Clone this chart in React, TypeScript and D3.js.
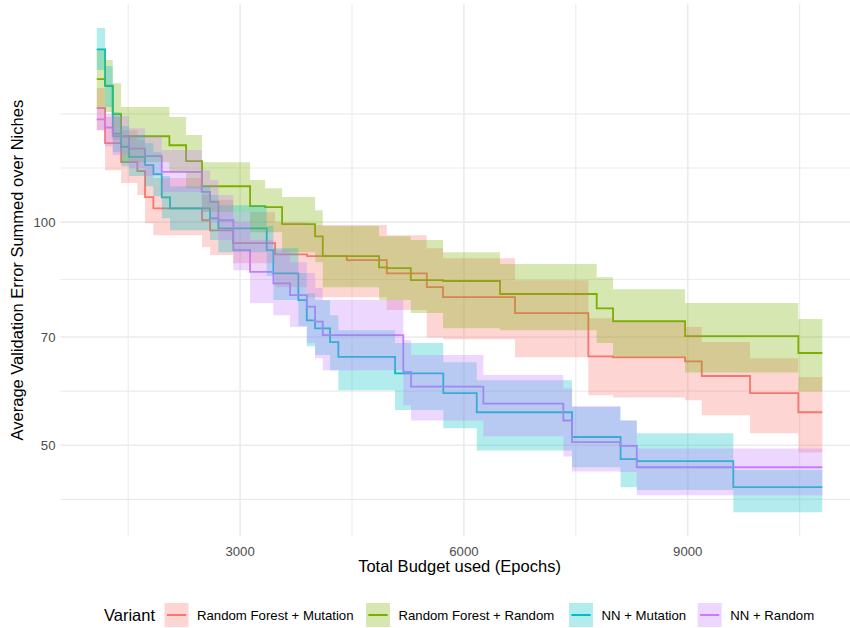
import React from "react";
import * as d3 from "d3";

// ---------- data ----------
const variants = [
  "Random Forest + Mutation",
  "Random Forest + Random",
  "NN + Mutation",
  "NN + Random",
];
const colors = ["#F8766D", "#7CAE00", "#00BFC4", "#C77CFF"];
const budgetEnd = 10804;

const rfMutBudget = [1079, 1190, 1405, 1623, 1726, 1838, 2490, 2598, 2906, 3469, 3898, 4430, 4966, 5502, 5720, 6685, 7668, 7999, 8964, 9188, 9835, 10483];
const rfMutMean = [142.5, 127.8, 120.5, 117.2, 108.1, 104.4, 100.6, 97.5, 93.7, 90.5, 90.0, 88.9, 85.3, 81.7, 79.2, 75.4, 65.9, 65.7, 64.9, 62.0, 58.8, 55.4];
const rfMutLo = [133.1, 117.5, 112.9, 108.8, 99.7, 96.0, 92.5, 90.3, 88.0, 81.7, 79.2, 79.2, 76.1, 69.9, 69.5, 65.7, 58.4, 58.0, 57.5, 54.9, 51.9, 48.9];
const rfMutHi = [151.7, 138.6, 133.1, 129.0, 119.4, 114.7, 108.8, 107.1, 103.2, 100.0, 99.1, 99.1, 96.0, 92.2, 89.4, 83.5, 74.2, 73.3, 72.2, 68.9, 65.5, 61.8];

const rfRndBudget = [1079, 1190, 1293, 1405, 2052, 2276, 2490, 3134, 3335, 3563, 4005, 4108, 4863, 4966, 5288, 5720, 6484, 7780, 7999, 8964, 10483];
const rfRndMean = [156.0, 152.6, 139.9, 130.6, 127.0, 120.9, 111.8, 105.1, 104.8, 99.4, 95.7, 90.0, 86.9, 86.7, 83.5, 83.3, 80.0, 76.5, 73.5, 70.2, 66.6];
const rfRndLo = [142.5, 140.8, 129.0, 120.5, 116.8, 111.1, 103.2, 96.9, 96.9, 91.1, 88.3, 81.7, 78.5, 78.5, 75.4, 71.9, 71.5, 68.7, 65.7, 62.7, 59.1];
const rfRndHi = [170.7, 165.5, 154.0, 143.0, 138.6, 131.1, 120.5, 114.0, 111.1, 108.1, 103.8, 98.8, 95.7, 95.7, 94.6, 91.1, 87.8, 84.3, 81.2, 77.8, 74.0];

const nnMutBudget = [1079, 1190, 1293, 1405, 1512, 1726, 1838, 1950, 2061, 2598, 2709, 3357, 3446, 3781, 3894, 4005, 4206, 4317, 5077, 5724, 6172, 7449, 8100, 8317, 9611];
const nnMutMean = [171.1, 152.8, 131.7, 126.4, 122.5, 119.4, 116.1, 108.0, 104.4, 101.2, 98.1, 91.7, 85.3, 78.5, 73.7, 71.9, 68.9, 65.8, 62.5, 58.8, 55.4, 51.3, 47.9, 47.6, 43.9];
const nnMutLo = [160.4, 143.0, 124.3, 119.0, 115.4, 111.8, 108.4, 101.2, 97.5, 94.6, 91.1, 84.6, 78.5, 72.4, 68.0, 66.2, 63.1, 59.3, 55.8, 52.7, 49.2, 46.7, 43.9, 43.5, 40.6];
const nnMutHi = [182.8, 162.4, 140.8, 134.8, 131.1, 127.8, 124.3, 115.4, 111.8, 108.8, 105.4, 98.8, 92.2, 85.4, 80.2, 78.5, 74.9, 71.5, 68.7, 64.7, 61.2, 56.3, 54.0, 51.9, 46.3];

const nnRndBudget = [1079, 1190, 1293, 1512, 1726, 1950, 2486, 2598, 2709, 2910, 3134, 3446, 3670, 3894, 4005, 4108, 5188, 5291, 6261, 7333, 7449, 8093, 8317];
const nnRndMean = [137.6, 134.2, 130.6, 125.7, 122.8, 116.9, 109.9, 106.5, 100.6, 91.7, 85.7, 82.7, 79.7, 76.9, 73.4, 70.4, 62.8, 60.0, 56.9, 54.0, 50.5, 49.9, 46.7];
const nnRndLo = [133.1, 126.6, 123.2, 118.3, 115.4, 109.8, 103.2, 100.0, 94.6, 86.1, 77.8, 74.9, 72.2, 68.7, 65.5, 63.1, 56.6, 54.0, 51.4, 48.3, 46.1, 46.0, 42.8];
const nnRndHi = [143.0, 139.9, 139.0, 133.9, 130.6, 125.1, 117.5, 114.0, 108.8, 100.0, 94.6, 91.7, 88.3, 85.4, 81.5, 78.5, 69.3, 66.2, 62.2, 59.7, 56.5, 54.0, 49.5];

const xTicks = [3000, 6000, 9000];
const yTicks = [50, 70, 100];

// ---------- layout ----------
const W = 850;
const H = 628;
const panel = { left: 60.5, right: 858.6, top: 3.8, bottom: 536.5 };
const FONT = "'Liberation Sans', Arial, Helvetica, sans-serif";
const GRID = "#EBEBEB";
const TXT = "#4D4D4D";

type Pt = { b: number; m: number; lo: number; hi: number };

function build(b: number[], m: number[], lo: number[], hi: number[]): Pt[] {
  const pts = b.map((v, i) => ({ b: v, m: m[i], lo: lo[i], hi: hi[i] }));
  const last = pts[pts.length - 1];
  pts.push({ ...last, b: budgetEnd });
  return pts;
}

export default function App() {
  const series = [
    build(rfMutBudget, rfMutMean, rfMutLo, rfMutHi),
    build(rfRndBudget, rfRndMean, rfRndLo, rfRndHi),
    build(nnMutBudget, nnMutMean, nnMutLo, nnMutHi),
    build(nnRndBudget, nnRndMean, nnRndLo, nnRndHi),
  ];
  const all = series.flat();
  const bMin = d3.min(all, (d) => d.b)!;
  const bMax = d3.max(all, (d) => d.b)!;
  const bSpan = bMax - bMin;
  const x = d3
    .scaleLinear()
    .domain([bMin - 0.05 * bSpan, bMax + 0.05 * bSpan])
    .range([panel.left, panel.right]);

  const l0 = Math.log10(d3.min(all, (d) => d.lo)!);
  const l1 = Math.log10(d3.max(all, (d) => d.hi)!);
  const lSpan = l1 - l0;
  const yLim = [l0 - 0.05 * lSpan, l1 + 0.05 * lSpan];
  const y = d3
    .scaleLog()
    .domain([10 ** yLim[0], 10 ** yLim[1]])
    .range([panel.bottom, panel.top]);

  // ggplot-style minor breaks (in transformed space)
  const majL = yTicks.map((v) => Math.log10(v));
  const bd = majL[1] - majL[0];
  const ext = [...majL];
  if (yLim[0] < ext[0]) ext.unshift(ext[0] - bd);
  if (yLim[1] > ext[ext.length - 1]) ext.push(ext[ext.length - 1] + bd);
  const yMinor: number[] = [];
  for (let i = 0; i < ext.length - 1; i++) {
    yMinor.push(ext[i], (ext[i] + ext[i + 1]) / 2);
  }
  yMinor.push(ext[ext.length - 1]);
  const yMinorVals = yMinor
    .filter((l) => l >= yLim[0] && l <= yLim[1] && !majL.some((m) => Math.abs(m - l) < 1e-9))
    .map((l) => 10 ** l);

  const xStep = xTicks[1] - xTicks[0];
  const xMinorVals: number[] = [];
  for (let v = xTicks[0] - xStep / 2; v <= x.domain()[1]; v += xStep) {
    if (v >= x.domain()[0]) xMinorVals.push(v);
  }

  const line = d3
    .line<Pt>()
    .x((d) => x(d.b))
    .y((d) => y(d.m))
    .curve(d3.curveStepAfter);
  const area = d3
    .area<Pt>()
    .x((d) => x(d.b))
    .y0((d) => y(d.lo))
    .y1((d) => y(d.hi))
    .curve(d3.curveStepAfter);

  const legendKeys = [164.5, 366, 569, 697.7];
  const keySize = 24;
  const legendY = 603;

  return (
    <svg
      width={W}
      height={H}
      viewBox={`0 0 ${W} ${H}`}
      style={{ position: "absolute", left: 0, top: 0, display: "block", background: "#fff" }}
      fontFamily={FONT}
    >
      <rect x={0} y={0} width={W} height={H} fill="#fff" />
      {/* minor grid */}
      {yMinorVals.map((v, i) => (
        <line key={"ym" + i} x1={panel.left} x2={panel.right} y1={y(v)} y2={y(v)} stroke={GRID} strokeWidth={1.1} />
      ))}
      {xMinorVals.map((v, i) => (
        <line key={"xm" + i} x1={x(v)} x2={x(v)} y1={panel.top} y2={panel.bottom} stroke={GRID} strokeWidth={1.1} />
      ))}
      {/* major grid */}
      {yTicks.map((v) => (
        <line key={"yM" + v} x1={panel.left} x2={panel.right} y1={y(v)} y2={y(v)} stroke={GRID} strokeWidth={1.6} />
      ))}
      {xTicks.map((v) => (
        <line key={"xM" + v} x1={x(v)} x2={x(v)} y1={panel.top} y2={panel.bottom} stroke={GRID} strokeWidth={1.6} />
      ))}

      {/* step lines */}
      {series.map((s, i) => (
        <path key={"l" + i} d={line(s)!} fill="none" stroke={colors[i]} strokeWidth={1.8} />
      ))}
      {/* ribbons */}
      {series.map((s, i) => (
        <path key={"r" + i} d={area(s)!} fill={colors[i]} fillOpacity={0.3} stroke="none" />
      ))}

      {/* axis labels */}
      {xTicks.map((v) => (
        <text key={"xt" + v} x={x(v)} y={555.5} textAnchor="middle" fontSize={13.2} fill={TXT}>
          {v}
        </text>
      ))}
      {yTicks.map((v) => (
        <text key={"yt" + v} x={55.5} y={y(v)} dy="0.35em" textAnchor="end" fontSize={13.2} fill={TXT}>
          {v}
        </text>
      ))}
      <text x={(panel.left + panel.right) / 2} y={572} textAnchor="middle" fontSize={16.5} fill="#000">
        Total Budget used (Epochs)
      </text>
      <text
        transform={`translate(23,${(panel.top + panel.bottom) / 2}) rotate(-90)`}
        textAnchor="middle"
        fontSize={16.5}
        fill="#000"
      >
        Average Validation Error Summed over Niches
      </text>

      {/* legend */}
      <text x={104} y={legendY + keySize / 2} dy="0.35em" fontSize={16.5} fill="#000">
        Variant
      </text>
      {variants.map((name, i) => (
        <g key={"lg" + i} transform={`translate(${legendKeys[i]},${legendY})`}>
          <rect x={0} y={0} width={keySize} height={keySize} fill={colors[i]} fillOpacity={0.3} />
          <line x1={keySize * 0.1} x2={keySize * 0.9} y1={keySize / 2} y2={keySize / 2} stroke={colors[i]} strokeWidth={2} />
          <text x={keySize + 8.5} y={keySize / 2} dy="0.35em" fontSize={13.2} fill="#000">
            {name}
          </text>
        </g>
      ))}
    </svg>
  );
}
